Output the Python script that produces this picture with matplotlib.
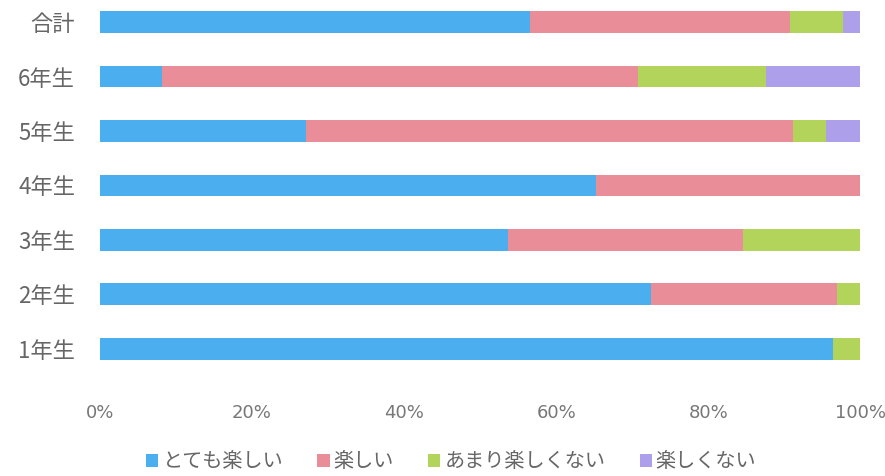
import matplotlib
matplotlib.use("Agg")
import matplotlib.pyplot as plt
import numpy as np

plt.rcParams['font.family'] = ['Noto Sans CJK JP', 'DejaVu Sans']

# 下から上へ
grades = ['1年生', '2年生', '3年生', '4年生', '5年生', '6年生', '合計']
series = ['とても楽しい', '楽しい', 'あまり楽しくない', '楽しくない']
totemo = [96.4, 72.5, 53.7, 65.2, 27.1, 8.1, 56.6]
tanoshii = [0.0, 24.5, 30.9, 34.8, 64.0, 62.7, 34.2]
amari = [3.6, 3.0, 15.4, 0.0, 4.4, 16.8, 7.0]
tanoshikunai = [0.0, 0.0, 0.0, 0.0, 4.5, 12.4, 2.2]
colors = ['#4BAEEF', '#E98E98', '#B3D45A', '#AE9FEA']

fig = plt.figure(figsize=(8.85, 4.76), dpi=100)
ax = fig.add_axes([0.113, 0.21, 0.859, 0.778])

y = np.arange(len(grades))
left = np.zeros(len(grades))
for name, vals, c in zip(series, [totemo, tanoshii, amari, tanoshikunai], colors):
    vals = np.array(vals)
    ax.barh(y, vals, left=left, height=0.4, color=c, label=name)
    left += vals

ax.set_xlim(0, 100)
ax.set_ylim(-0.5, 6.3)
ax.set_yticks(y)
ax.set_yticklabels(grades, fontsize=16, color='#666666')
ax.set_xticks(np.arange(0, 101, 20))
ax.set_xticklabels(['{}%'.format(v) for v in range(0, 101, 20)],
                   fontsize=13, color='#777777',
                   family=['Liberation Sans Narrow', 'DejaVu Sans'])
ax.tick_params(axis='both', length=0)
ax.tick_params(axis='y', pad=18)
ax.tick_params(axis='x', pad=20)
for s in ax.spines.values():
    s.set_visible(False)

fig.legend(loc='center', bbox_to_anchor=(0.51, 0.03), ncol=4, frameon=False,
           handlelength=0.6, handleheight=0.6, handletextpad=0.2,
           columnspacing=1.7, fontsize=14.5, labelcolor='#666666')

fig.savefig('out.png', dpi=100)
